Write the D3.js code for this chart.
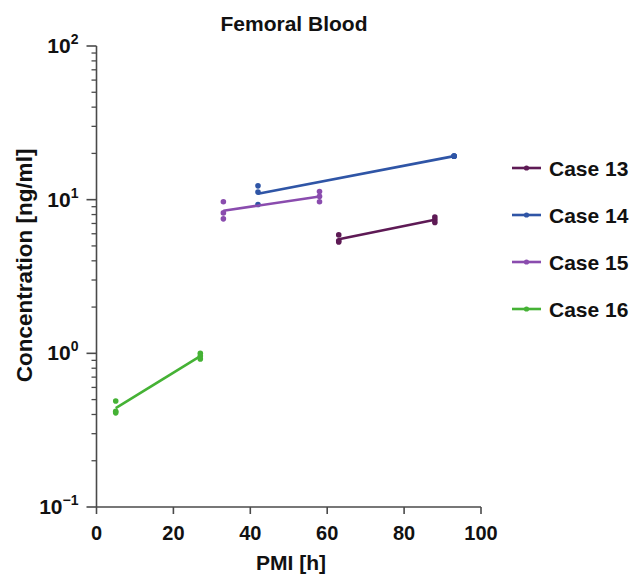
<!DOCTYPE html>
<html>
<head>
<meta charset="utf-8">
<script src="https://cdn.jsdelivr.net/npm/d3@7"></script>
<style>
  body { margin: 0; background: #fff; }
  text { font-family: "Liberation Sans", Arial, sans-serif; font-weight: bold; fill: #111; }
</style>
</head>
<body>
<div id="chart"></div>
<script>
// datos
const casos = ["Case 13", "Case 14", "Case 15", "Case 16"];
const colores = ["#5e1a55", "#2f55a6", "#8a4cae", "#45b235"];
const pmi = [[63, 88], [42, 93], [33, 58], [5, 27]];
const conc13 = [[5.9, 5.4, 5.3], [7.7, 7.4, 7.1]];
const conc14 = [[12.3, 11.2, 9.3], [19.2, 19.2, 19.2]];
const conc15 = [[9.7, 8.2, 7.5], [11.3, 10.5, 9.7]];
const conc16 = [[0.49, 0.42, 0.41], [1.0, 0.96, 0.92]];
const concentraciones = [conc13, conc14, conc15, conc16];
const xTicks = [0, 20, 40, 60, 80, 100];
const yTicks = [0.1, 1, 10, 100];
const yTickExp = ["\u22121", "0", "1", "2"];

const width = 635, height = 577;
const svg = d3.select("#chart").append("svg")
    .attr("width", width)
    .attr("height", height);

const x = d3.scaleLinear().domain([0, 100]).range([96.5, 481]);
const y = d3.scaleLog().domain([0.1, 100]).range([507, 46]);

const ejeColor = "#4a4a4a";

// Eje X
const gx = svg.append("g").attr("transform", `translate(0,${y(0.1)})`);
gx.append("line").attr("x1", x(0)).attr("x2", x(100)).attr("stroke", ejeColor).attr("stroke-width", 1.6);
gx.selectAll(".tx").data(xTicks).enter().append("line")
    .attr("x1", d => x(d)).attr("x2", d => x(d))
    .attr("y1", 0).attr("y2", 7)
    .attr("stroke", ejeColor).attr("stroke-width", 1.6);
gx.selectAll(".lx").data(xTicks).enter().append("text")
    .attr("x", d => x(d)).attr("y", 33)
    .attr("text-anchor", "middle")
    .style("font-size", "20px")
    .text(d => d);

// Eje Y
const gy = svg.append("g").attr("transform", `translate(${x(0)},0)`);
gy.append("line").attr("y1", y(0.1)).attr("y2", y(100)).attr("stroke", ejeColor).attr("stroke-width", 1.6);
const menores = [];
[0.1, 1, 10].forEach(base => {
    for (let k = 2; k <= 9; k++) menores.push(base * k);
});
gy.selectAll(".my").data(menores).enter().append("line")
    .attr("x1", -5).attr("x2", 0)
    .attr("y1", d => y(d)).attr("y2", d => y(d))
    .attr("stroke", ejeColor).attr("stroke-width", 1.3);
gy.selectAll(".ty").data(yTicks).enter().append("line")
    .attr("x1", -10).attr("x2", 0)
    .attr("y1", d => y(d)).attr("y2", d => y(d))
    .attr("stroke", ejeColor).attr("stroke-width", 1.6);
const etiquetas = gy.selectAll(".ly").data(yTicks).enter().append("text")
    .attr("x", -18).attr("y", d => y(d) + 7)
    .attr("text-anchor", "end")
    .style("font-size", "21px");
etiquetas.append("tspan").text("10");
etiquetas.append("tspan")
    .attr("dy", -9)
    .style("font-size", "14px")
    .text((d, i) => yTickExp[i]);

// Titulos
svg.append("text").attr("x", 294).attr("y", 31).attr("text-anchor", "middle")
    .style("font-size", "21px").text("Femoral Blood");
svg.append("text").attr("x", 291).attr("y", 570).attr("text-anchor", "middle")
    .style("font-size", "21px").text("PMI [h]");
svg.append("text")
    .attr("transform", `translate(32,${(y(0.1) + y(100)) / 2 - 11}) rotate(-90)`)
    .attr("text-anchor", "middle")
    .style("font-size", "22.5px").text("Concentration [ng/ml]");

// Series
casos.forEach((caso, i) => {
    const valores = concentraciones[i];
    const medias = valores.map(v => d3.mean(v));
    const linea = d3.line().x((d, j) => x(pmi[i][j])).y(d => y(d));
    svg.append("path")
        .datum(medias)
        .attr("d", linea)
        .attr("fill", "none")
        .attr("stroke", colores[i])
        .attr("stroke-width", 2.6);
    const puntos = [];
    valores.forEach((v, j) => v.forEach(c => puntos.push({ x: pmi[i][j], c: c })));
    svg.selectAll(".p" + i).data(puntos).enter().append("circle")
        .attr("cx", d => x(d.x))
        .attr("cy", d => y(d.c))
        .attr("r", 2.8)
        .attr("fill", colores[i]);
});

// Leyenda
const leyenda = svg.selectAll(".leg").data(casos).enter().append("g")
    .attr("transform", (d, i) => `translate(512,${168 + i * 47})`);
leyenda.append("line").attr("x1", 0).attr("x2", 29)
    .attr("stroke", (d, i) => colores[i]).attr("stroke-width", 2.6);
leyenda.append("circle").attr("cx", 14.5).attr("r", 2.6)
    .attr("fill", (d, i) => colores[i]);
leyenda.append("text").attr("x", 37).attr("y", 7.5)
    .style("font-size", "21px").text(d => d);
</script>
</body>
</html>
